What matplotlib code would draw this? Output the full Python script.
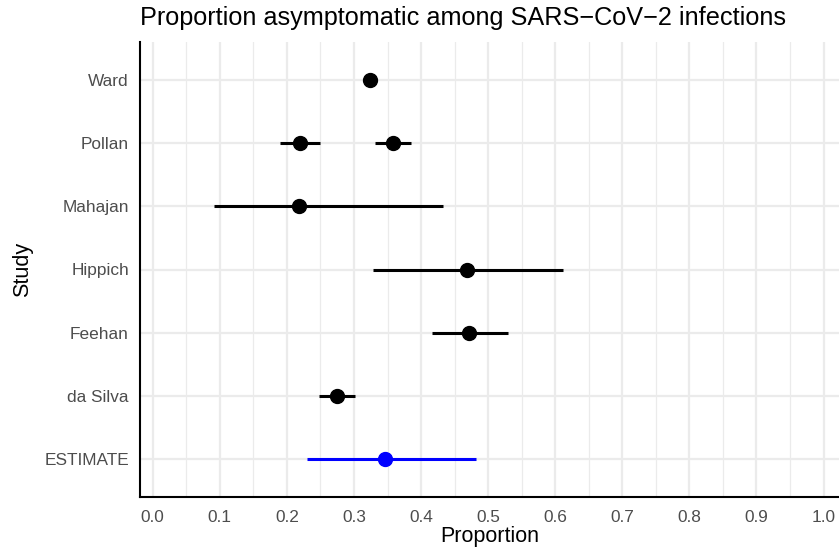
import numpy as np
import matplotlib
matplotlib.use("Agg")
import matplotlib.pyplot as plt

plt.rcParams['font.family'] = ['Liberation Sans', 'DejaVu Sans']

# y categories, top to bottom
studies = ["Ward", "Pollan", "Mahajan", "Hippich", "Feehan", "da Silva", "ESTIMATE"]

# one row per estimate (Pollan has two)
pt_study = ["Ward", "Pollan", "Pollan", "Mahajan", "Hippich", "Feehan", "da Silva"]
pt_est = [0.324, 0.219, 0.358, 0.218, 0.468, 0.472, 0.275]
pt_lo = [0.324, 0.190, 0.332, 0.092, 0.329, 0.417, 0.248]
pt_hi = [0.324, 0.250, 0.385, 0.433, 0.612, 0.530, 0.302]

est_est = 0.346
est_lo = 0.230
est_hi = 0.482

xticks = np.round(np.arange(0, 1.01, 0.1), 1)

fig = plt.figure(figsize=(8.39, 5.52), dpi=100)
ax = fig.add_axes([140/839, 55/552, 699/839, 455/552])

ypos = {s: len(studies) - i for i, s in enumerate(studies)}

# grid
for v in np.arange(0, 1.051, 0.05):
    major = abs(v*10 - round(v*10)) < 1e-6
    ax.axvline(v, color='#ebebeb', lw=1.6 if major else 0.9, zorder=0)
for s in studies:
    ax.axhline(ypos[s], color='#ebebeb', lw=1.6, zorder=0)

for s, e, lo, hi in zip(pt_study, pt_est, pt_lo, pt_hi):
    y = ypos[s]
    if hi > lo:
        ax.plot([lo, hi], [y, y], color='black', lw=2.2, solid_capstyle='butt', zorder=2)
    ax.plot(e, y, 'o', color='black', ms=10, zorder=3)

y = ypos["ESTIMATE"]
ax.plot([est_lo, est_hi], [y, y], color='#0000ff', lw=2.2, solid_capstyle='butt', zorder=2)
ax.plot(est_est, y, 'o', color='#0000ff', ms=10, zorder=3)

ax.set_xlim(-0.019, 1.023)
ax.set_ylim(0.4, len(studies) + 0.6)
ax.set_xticks(xticks)
ax.set_xticklabels(["%.1f" % v for v in xticks])
ax.set_yticks([ypos[s] for s in studies])
ax.set_yticklabels(studies)
ax.tick_params(axis='both', length=0, labelsize=12.4, labelcolor='#4d4d4d')
ax.tick_params(axis='y', pad=8)
ax.tick_params(axis='x', pad=9)

for side in ['top', 'right']:
    ax.spines[side].set_visible(False)
for side in ['left', 'bottom']:
    ax.spines[side].set_linewidth(1.5)
    ax.spines[side].set_color('black')

ax.set_xlabel("Proportion", fontsize=15.5, labelpad=1)
ax.set_ylabel("Study", fontsize=15.5, labelpad=8)
fig.text(140/839, 1 - 18/552, "Proportion asymptomatic among SARS\u2212CoV\u22122 infections",
         fontsize=18.2, ha='left', va='center')

fig.savefig("out.png", dpi=100)
